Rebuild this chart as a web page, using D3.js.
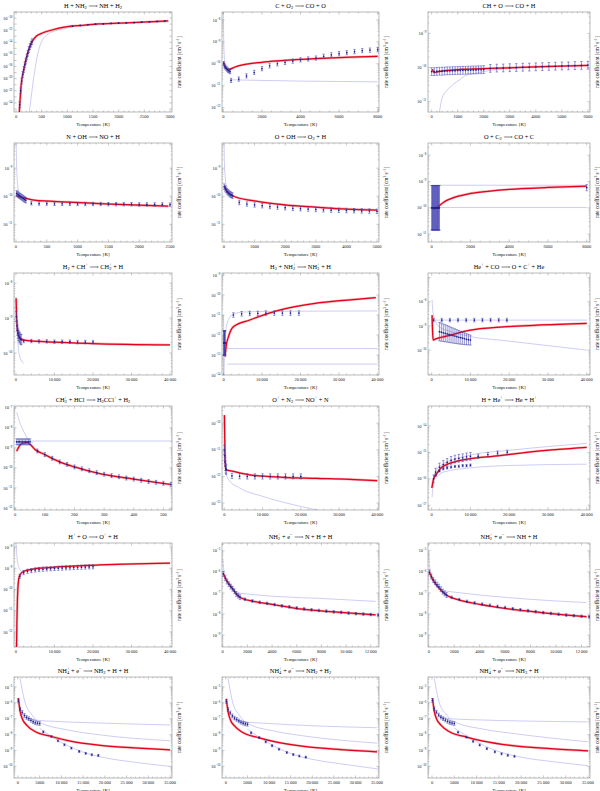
<!DOCTYPE html>
<html><head><meta charset="utf-8">
<script src="https://cdn.jsdelivr.net/npm/d3@7"></script>
<style>body{margin:0;background:#fff} text{font-family:"Liberation Serif","DejaVu Serif",serif}</style>
</head><body><svg id="c" width="600" height="791"></svg>
<script>
const titles = [
 "H + NH_{2} ⟶ NH + H_{2}", "C + O_{2} ⟶ CO + O", "CH + O ⟶ CO + H",
 "N + OH ⟶ NO + H", "O + OH ⟶ O_{2} + H", "O + C_{2} ⟶ CO + C",
 "H_{2} + CH^{+} ⟶ CH_{2}^{+} + H", "H_{2} + NH_{2}^{+} ⟶ NH_{3}^{+} + H", "He^{+} + CO ⟶ O + C^{+} + He",
 "CH_{3}^{+} + HCl ⟶ H_{2}CCl^{+} + H_{2}", "O^{+} + N_{2} ⟶ NO^{+} + N", "H + He^{+} ⟶ He + H^{+}",
 "H^{+} + O ⟶ O^{+} + H", "NH_{2}^{+} + e^{−} ⟶ N + H + H", "NH_{2}^{+} + e^{−} ⟶ NH + H",
 "NH_{4}^{+} + e^{−} ⟶ NH_{2} + H + H", "NH_{4}^{+} + e^{−} ⟶ NH_{2} + H_{2}", "NH_{4}^{+} + e^{−} ⟶ NH_{3} + H"
];
const xDomains = [[-40,3040],[-70,8070],[-140,6080],[-32,2532],[-64,5064],[-190,8170],
 [-500,40500],[-410,40430],[-950,40850],[-4,529],[-600,40450],[-950,40850],
 [-500,40500],[-60,12670],[-60,12670],[-900,35450],[-900,35450],[-900,35450]];
const xTickMax = [3000,8000,6000,2500,5000,8000,40000,40000,40000,500,40000,40000,40000,12000,12000,35000,35000,35000];
const xTickSteps = [500,2000,1000,500,1000,2000,10000,10000,10000,100,10000,10000,10000,2000,2000,5000,5000,5000];
const xMinorSteps = [100,500,200,100,200,500,2000,2000,2000,20,2000,2000,2000,500,500,1000,1000,1000];
const yDomains = [[3.2e-26,1e-9],[6.3e-13,2.3e-8],[5e-12,4.2e-9],[2.34e-12,7.9e-9],[2.34e-12,7.9e-9],[5e-12,2.9e-8],
 [2.34e-11,1.95e-8],[1e-14,1.26e-9],[9.3e-12,1.55e-7],[7.9e-13,1.23e-7],[5.5e-14,4.4e-10],[6.6e-18,5.75e-14],
 [1.95e-13,1.55e-8],[2.75e-10,2.34e-5],[2.75e-10,2.34e-5],[1.86e-11,4.2e-5],[1.86e-11,4.2e-5],[1.86e-11,4.2e-5]];
const yLabelExps = [[-10,-12,-14,-16,-18,-20,-22,-24],[-8,-9,-10,-11,-12],[-9,-10,-11],[-9,-10,-11],[-9,-10,-11],[-8,-9,-10,-11],
 [-8,-9,-10],[-9,-10,-11,-12,-13,-14],[-8,-9,-10],[-7,-8,-9,-10,-11,-12],[-10,-11,-12,-13],[-14,-15,-16,-17],
 [-8,-9,-10,-11,-12],[-5,-6,-7,-8,-9],[-5,-6,-7,-8,-9],[-5,-6,-7,-8,-9,-10],[-5,-6,-7,-8,-9,-10],[-5,-6,-7,-8,-9,-10]];

// fitted rate (red)
const redCurves = [
 [[64,3.2e-26],[100,1e-21],[150,2.8e-19],[200,2.5e-17],[260,1.26e-15],[320,1.6e-14],[400,1.1e-13],[516,3.5e-13],[700,1.07e-12],[968,3.4e-12],[1300,6.3e-12],[1613,1.05e-11],[2258,1.74e-11],[2968,3.3e-11]],
 [[10,1.23e-10],[100,7.1e-11],[260,5.4e-11],[600,7.1e-11],[1000,8.9e-11],[2000,1.17e-10],[3000,1.38e-10],[4000,1.58e-10],[5000,1.74e-10],[6000,1.9e-10],[7000,2.04e-10],[8000,2.2e-10]],
 [[30,8.9e-11],[100,7.1e-11],[200,7.4e-11],[500,8.1e-11],[1000,8.7e-11],[2000,9.3e-11],[3000,9.8e-11],[4000,1.05e-10],[5000,1.1e-10],[6000,1.15e-10]],
 [[10,1.1e-10],[27,1e-10],[134,8.7e-11],[295,7.2e-11],[833,6.2e-11],[1344,5.5e-11],[1882,4.9e-11],[2473,4.4e-11]],
 [[15,2.3e-10],[100,1.5e-10],[300,1.02e-10],[1000,6.8e-11],[2000,4.9e-11],[3000,4.1e-11],[4000,3.5e-11],[5000,3.2e-11]],
 [[100,8.9e-11],[300,1.07e-10],[600,1.6e-10],[1000,2.24e-10],[2000,3.5e-10],[3000,4.3e-10],[4000,5e-10],[6000,5.9e-10],[8000,6.6e-10]],
 [[50,3.7e-9],[150,1.3e-9],[300,6.3e-10],[700,3.1e-10],[2000,2.34e-10],[10000,2.04e-10],[20000,1.86e-10],[40000,1.7e-10]],
 [[400,8.3e-14],[700,3e-13],[1280,8.3e-13],[2550,2.6e-12],[6800,5.6e-12],[15300,1.9e-11],[23800,3.8e-11],[32300,5.6e-11],[39600,7.4e-11]],
 [[100,2.8e-9],[250,5e-10],[400,2.6e-10],[1000,2.9e-10],[2500,3.4e-10],[4720,4.1e-10],[9600,6.5e-10],[18500,9.1e-10],[27100,1.07e-9],[40000,1.26e-9]],
 [[5,6.8e-10],[15,1.3e-9],[25,1.7e-9],[40,1.8e-9],[50,1.5e-9],[67,8.3e-10],[100,4.6e-10],[150,2e-10],[200,1.12e-10],[289,5e-11],[400,2.75e-11],[522,1.5e-11]],
 [[30,2e-10],[100,3e-11],[200,5e-12],[400,1.8e-12],[2340,1.55e-12],[6670,1.15e-12],[15300,9.3e-13],[24000,8.5e-13],[32700,7.8e-13],[40000,6.9e-13]],
 [[50,4.5e-17],[500,1e-16],[1290,1.55e-16],[2580,2.75e-16],[7100,4.9e-16],[17600,7.6e-16],[26200,1.07e-15],[40000,1.55e-15]],
 [[150,1.95e-13],[250,3e-12],[400,4e-11],[600,2e-10],[1000,4.7e-10],[2000,7.2e-10],[5000,9.5e-10],[10000,1.12e-9],[20000,1.38e-9],[40000,1.74e-9]],
 [[50,8.5e-7],[300,4e-7],[700,1.9e-7],[1390,6.3e-8],[2500,4e-8],[4000,2.9e-8],[6480,1.7e-8],[9000,1.26e-8],[12400,9.1e-9]],
 [[50,1e-6],[300,4.5e-7],[700,2e-7],[1390,8e-8],[2500,4.5e-8],[4000,2.9e-8],[6480,1.7e-8],[9000,1.15e-8],[12400,7.5e-9]],
 [[100,2e-6],[500,3e-7],[1000,1e-7],[2000,4e-8],[3930,1.55e-8],[7720,7.6e-9],[11500,4.2e-9],[19000,2.1e-9],[26600,1.48e-9],[35000,1.1e-9]],
 [[100,1.8e-6],[500,2.8e-7],[1000,9e-8],[2000,3.5e-8],[3930,1.35e-8],[7720,6.3e-9],[11500,3.5e-9],[19000,1.7e-9],[26600,1.15e-9],[35000,8.3e-10]],
 [[100,2e-6],[500,3e-7],[1000,1e-7],[2000,4e-8],[3930,1.5e-8],[7720,7e-9],[11500,3.9e-9],[19000,1.9e-9],[26600,1.3e-9],[35000,9.5e-10]]
];

// other rate expressions (thin blue)
const thinCurves = [
 [[[258,3.2e-26],[300,2e-23],[350,3.2e-20],[400,1.26e-17],[450,1e-15],[516,2.5e-14],[600,1.6e-13],[700,5e-13],[850,1.26e-12],[1000,2.5e-12],[1300,6e-12],[1600,1e-11]]],
 [[[0,2.3e-8],[15,2e-9],[40,3e-10],[80,1.2e-10]],[[350,1.86e-11],[2000,1.74e-11],[4000,1.62e-11],[6000,1.55e-11],[8000,1.5e-11]]],
 [[[300,5e-12],[400,1.26e-11],[600,2.2e-11],[820,3.2e-11],[1100,4.5e-11],[1330,6e-11],[1700,6.8e-11],[2000,7.6e-11],[2500,8.7e-11],[3000,9.8e-11]]],
 [[[3,7.9e-9],[12,1e-9],[25,3e-10],[45,1.4e-10],[80,1e-10]]],
 [[[3,7.9e-9],[15,1.5e-9],[40,5e-10],[90,2.2e-10]]],
 [[[0,7.2e-10],[8000,7.2e-10]],[[0,1.02e-10],[8000,1.02e-10]]],
 [[[50,4e-9],[200,8e-10],[500,2e-10],[1000,8e-11],[2000,5e-11]]],
 [[[50,1e-14],[300,3e-13],[640,2e-12],[1300,6e-12],[2550,1.1e-11],[5000,1.4e-11],[10000,1.5e-11],[20000,1.55e-11],[40000,1.6e-11]],[[0,2.1e-13],[40000,2.1e-13]],[[1000,3.5e-14],[40000,3.5e-14]],[[0,1e-11],[30,1e-14]]],
 [[[100,1.2e-8],[300,4e-9],[1000,1.5e-9],[2500,8e-10],[4700,6e-10],[10000,3.6e-10],[18500,2.5e-10],[40000,1e-10]],[[0,1.74e-9],[40000,1.74e-9]]],
 [[[5,6e-8],[15,2e-8],[30,6e-9],[45,2.5e-9],[60,1.8e-9]],[[50,2.2e-9],[529,2.2e-9]]],
 [[[300,1.35e-12],[1000,8e-13],[4000,3.7e-13],[10000,1.8e-13],[18000,8.7e-14],[24000,5.6e-14],[28000,4e-14]]],
 [[[100,2e-17],[600,1e-16],[2000,3e-16],[10000,8e-16],[20000,1.2e-15],[40000,2.2e-15]],[[1000,1e-16],[3000,1.8e-16],[10000,2.6e-16],[20000,3.2e-16],[40000,3.6e-16]]],
 [[[100,1.2e-8],[300,3e-9],[700,1.2e-9],[1500,7e-10]]],
 [[[10,4e-6],[100,1e-6],[300,5e-7]],[[1200,1e-7],[4000,7e-8],[8000,5.5e-8],[12400,4e-8]]],
 [[[10,8e-6],[80,1.5e-6],[300,6e-7]],[[1000,1.3e-7],[4000,8e-8],[8000,5e-8],[12400,3.5e-8]]],
 [[[500,3.5e-5],[1600,1.15e-6],[3250,1.7e-7],[4680,6.5e-8],[11500,1.95e-8],[19000,9.5e-9],[35000,4.1e-9]],[[1500,1.2e-7],[3930,8.3e-8],[10000,6.5e-8],[20000,5.2e-8],[35000,4e-8]],[[5000,2.5e-8],[10000,3.2e-9],[15000,7.9e-10],[20000,3.5e-10],[27000,1.8e-10],[35000,1e-10]]],
 [[[500,3.5e-5],[1600,1e-6],[3250,1.5e-7],[4680,5.6e-8],[11500,1.6e-8],[19000,7.6e-9],[35000,2.9e-9]],[[1500,1e-7],[3930,6.5e-8],[10000,5e-8],[20000,3.6e-8],[35000,2.7e-8]],[[5000,2.2e-8],[10000,2.8e-9],[15000,6.5e-10],[20000,2.8e-10],[27000,1.4e-10],[35000,7e-11]]],
 [[[500,3.5e-5],[1600,1.1e-6],[3250,1.8e-7],[4680,7e-8],[11500,2.2e-8],[19000,1.1e-8],[35000,3.5e-9]],[[1500,1.4e-7],[3930,1e-7],[10000,8.5e-8],[20000,7.2e-8],[35000,6.3e-8]],[[5000,2.6e-8],[10000,3.5e-9],[15000,8.5e-10],[20000,3.8e-10],[27000,2e-10],[35000,1.1e-10]]]
];

// measured / tabulated points: [T, k, multiplicative error]
const errorSets = [
 [[[70,5e-25,3],[90,1e-22,3],[110,4e-21,3],[130,5e-20,3],[150,3.2e-19,3],[170,2e-18,3],[190,8e-18,3],[210,4e-17,3],[230,1.6e-16,3],[250,6.3e-16,3],[270,2e-15,3],[290,5e-15,3],[310,1.26e-14,3]],
  [[1100,4.5e-12,1.1],[1250,6.3e-12,1.1],[1400,7.9e-12,1.1],[1550,1e-11,1.1],[1700,1.12e-11,1.1],[1850,1.32e-11,1.1],[2000,1.48e-11,1.1],[2150,1.66e-11,1.1],[2300,1.8e-11,1.1],[2450,2.1e-11,1.1],[2600,2.4e-11,1.1],[2750,2.75e-11,1.1],[2900,3.16e-11,1.1]]],
 [[[20,1e-10,1.25],[60,7.9e-11,1.25],[100,7.1e-11,1.25],[150,6.3e-11,1.25],[200,5.6e-11,1.25],[250,5e-11,1.25],[300,4.7e-11,1.25],[350,4.4e-11,1.25]],
  [[400,1.74e-11,1.25],[800,2e-11,1.25],[1200,2.8e-11,1.25],[1600,4e-11,1.25],[2000,6e-11,1.25],[2400,8.1e-11,1.25],[2800,1e-10,1.25],[3200,1.15e-10,1.25],[3600,1.32e-10,1.25],[4000,1.51e-10,1.25],[4400,1.66e-10,1.25],[4800,1.82e-10,1.25],[5200,2.2e-10,1.25],[5600,2.57e-10,1.25],[6000,2.9e-10,1.25],[6400,3.2e-10,1.25],[6800,3.6e-10,1.25],[7200,4e-10,1.25],[7600,4.2e-10,1.25],[8000,4.4e-10,1.25]]],
 [[[0,7.6e-11,1.3],[100,7.6e-11,1.3],[200,7.7e-11,1.3],[300,7.8e-11,1.3],[400,7.8e-11,1.3],[500,7.9e-11,1.3],[600,8e-11,1.3],[700,8e-11,1.3],[800,8.1e-11,1.3],[900,8.1e-11,1.3],[1000,8.2e-11,1.3],[1100,8.2e-11,1.3],[1200,8.3e-11,1.3],[1300,8.3e-11,1.3],[1400,8.4e-11,1.3],[1500,8.4e-11,1.3],[1600,8.5e-11,1.3],[1700,8.5e-11,1.3],[1800,8.6e-11,1.3],[1900,8.6e-11,1.3],[2000,8.7e-11,1.3]],
  [[2250,9.4e-11,1.3],[2500,9.6e-11,1.3],[2750,9.7e-11,1.3],[3000,9.9e-11,1.3],[3250,1e-10,1.3],[3500,1.02e-10,1.3],[3750,1.03e-10,1.3],[4000,1.05e-10,1.3],[4250,1.06e-10,1.3],[4500,1.08e-10,1.3],[4750,1.09e-10,1.3],[5000,1.11e-10,1.3],[5250,1.12e-10,1.3],[5500,1.14e-10,1.3],[5750,1.15e-10,1.3],[6000,1.17e-10,1.3]]],
 [[[10,1.26e-10,1.25],[25,1.2e-10,1.25],[40,1.12e-10,1.25],[55,1.05e-10,1.25],[70,1e-10,1.25],[85,9.5e-11,1.25],[100,9e-11,1.25],[115,8.5e-11,1.25],[130,8e-11,1.25],[145,7.6e-11,1.25],[160,7.2e-11,1.25]],
  [[250,5.6e-11,1.15],[375,5.5e-11,1.15],[500,5.5e-11,1.15],[625,5.4e-11,1.15],[750,5.4e-11,1.15],[875,5.4e-11,1.15],[1000,5.3e-11,1.15],[1125,5.3e-11,1.15],[1250,5.3e-11,1.15],[1375,5.3e-11,1.15],[1500,5.2e-11,1.15],[1625,5.2e-11,1.15],[1750,5.2e-11,1.15],[1875,5.2e-11,1.15],[2000,5.1e-11,1.15],[2125,5.1e-11,1.15],[2250,5.1e-11,1.15],[2375,5.1e-11,1.15],[2500,5e-11,1.15]]],
 [[[10,2.2e-10,1.25],[40,1.9e-10,1.25],[70,1.7e-10,1.25],[100,1.5e-10,1.25],[130,1.4e-10,1.25],[160,1.3e-10,1.25],[190,1.2e-10,1.25],[220,1.15e-10,1.25],[250,1.1e-10,1.25],[280,1.05e-10,1.25]],
  [[500,6e-11,1.2],[750,5.3e-11,1.2],[1000,4.9e-11,1.2],[1250,4.6e-11,1.2],[1500,4.3e-11,1.2],[1750,4.1e-11,1.2],[2000,3.9e-11,1.2],[2250,3.7e-11,1.2],[2500,3.6e-11,1.2],[2750,3.5e-11,1.2],[3000,3.4e-11,1.2],[3250,3.3e-11,1.2],[3500,3.2e-11,1.2],[3750,3.15e-11,1.2],[4000,3.1e-11,1.2],[4250,3.05e-11,1.2],[4500,3e-11,1.2],[4750,2.95e-11,1.2],[5000,2.9e-11,1.2]]],
 [[[0,1e-10,7],[20,1e-10,7],[40,1e-10,7],[60,1e-10,7],[80,1e-10,7],[100,1e-10,7],[120,1e-10,7],[140,1e-10,7],[160,1e-10,7],[180,1e-10,7],[200,1e-10,7],[220,1e-10,7],[240,1e-10,7],[260,1e-10,7],[280,1e-10,7],[300,1e-10,7],[320,1e-10,7],[340,1e-10,7],[360,1e-10,7],[380,1e-10,7],[400,1e-10,7]],
  [[8000,5.8e-10,1.3]]],
 [[[100,1.1e-9,1.4],[250,6e-10,1.4],[400,4.5e-10,1.4],[550,3.7e-10,1.4],[700,3.2e-10,1.4],[850,2.9e-10,1.4],[1000,2.7e-10,1.4],[1200,2.5e-10,1.4],[1400,2.4e-10,1.4]],
  [[2000,2.2e-10,1.12],[4000,2.2e-10,1.12],[6000,2.15e-10,1.12],[8000,2.15e-10,1.12],[10000,2.1e-10,1.12],[12000,2.1e-10,1.12],[14000,2.1e-10,1.12],[16000,2.05e-10,1.12],[18000,2.05e-10,1.12],[20000,2.05e-10,1.12]]],
 [[[50,4e-13,4],[100,4e-13,4],[150,4e-13,4],[200,4e-13,4],[250,4e-13,4],[300,4e-13,4],[350,4e-13,4],[400,4e-13,4]],
  [[2550,1e-11,1.3],[4700,1.15e-11,1.3],[6800,1.2e-11,1.3],[8900,1.2e-11,1.3],[11000,1.25e-11,1.3],[13200,1.25e-11,1.3],[15300,1.25e-11,1.3],[17400,1.25e-11,1.3],[19600,1.25e-11,1.3]]],
 [[[2000,5.8e-10,2.4],[2500,5.5e-10,2.35],[3000,5.2e-10,2.3],[3500,4.95e-10,2.25],[4000,4.7e-10,2.2],[4500,4.45e-10,2.15],[5000,4.2e-10,2.1],[5500,4e-10,2.05],[6000,3.8e-10,2],[6500,3.6e-10,1.95],[7000,3.4e-10,1.9],[7500,3.25e-10,1.85],[8000,3.1e-10,1.8],[8500,2.95e-10,1.75],[9000,2.8e-10,1.7],[9500,2.7e-10,1.65],[10000,2.6e-10,1.6]],
  [[500,1.74e-9,1.18],[2600,1.74e-9,1.18],[4700,1.74e-9,1.18],[6800,1.74e-9,1.18],[8900,1.74e-9,1.18],[11000,1.74e-9,1.18],[13100,1.74e-9,1.18],[15200,1.74e-9,1.18],[17300,1.74e-9,1.18],[19400,1.74e-9,1.18]]],
 [[[5,2e-9,1.4],[10,2e-9,1.4],[15,2e-9,1.4],[20,2e-9,1.4],[25,2e-9,1.4],[30,2e-9,1.4],[35,2e-9,1.4],[40,2e-9,1.4],[45,2e-9,1.4],[50,2e-9,1.4]],
  [[75,7e-10,1.25],[100,4.6e-10,1.25],[125,3e-10,1.25],[150,2e-10,1.25],[175,1.5e-10,1.25],[200,1.12e-10,1.25],[225,9e-11,1.25],[250,7.2e-11,1.25],[275,5.8e-11,1.25],[300,4.8e-11,1.25],[325,4.1e-11,1.25],[350,3.6e-11,1.25],[375,3.1e-11,1.25],[400,2.75e-11,1.25],[425,2.4e-11,1.25],[450,2.1e-11,1.25],[475,1.9e-11,1.25],[500,1.7e-11,1.25],[525,1.5e-11,1.25]]],
 [[[20,1e-11,1.5],[100,6e-12,1.5],[200,3.5e-12,1.5],[300,2.5e-12,1.5],[400,2e-12,1.5],[500,1.8e-12,1.5]],
  [[2000,1.05e-12,1.25],[4000,1.02e-12,1.25],[6000,1e-12,1.25],[8000,1e-12,1.25],[10000,1e-12,1.25],[12000,1e-12,1.25],[14000,1e-12,1.25],[16000,1e-12,1.25],[18000,1e-12,1.25],[20000,1e-12,1.25]]],
 [[[500,1e-16,1.4],[1000,1.8e-16,1.4],[2000,2.8e-16,1.4],[3000,3.5e-16,1.4],[4000,4.2e-16,1.4],[5000,5e-16,1.4],[6000,5.6e-16,1.4],[7000,6e-16,1.4],[8000,6.3e-16,1.4],[9000,6.8e-16,1.4],[10000,7.1e-16,1.4]],
  [[1000,1.4e-16,1.1],[2000,2e-16,1.1],[3000,2.4e-16,1.1],[4000,2.6e-16,1.1],[5000,2.8e-16,1.1],[6000,2.95e-16,1.1],[7000,3e-16,1.1],[8000,3.16e-16,1.1],[9000,3.16e-16,1.1],[10000,3.3e-16,1.1]],
  [[12000,7.2e-16,1.2],[14500,8.3e-16,1.2],[17000,9.5e-16,1.2],[19500,1.02e-15,1.2]]],
 [[[1000,4.2e-10,1.25],[2000,6.2e-10,1.25],[3000,7.2e-10,1.25],[4000,7.8e-10,1.25],[5000,8.3e-10,1.25],[6000,8.7e-10,1.25],[7000,9e-10,1.25],[8000,9.3e-10,1.25],[9000,9.5e-10,1.25],[10000,9.8e-10,1.25],[11000,1e-9,1.25],[12000,1.02e-9,1.25],[13000,1.04e-9,1.25],[14000,1.06e-9,1.25],[15000,1.08e-9,1.25],[16000,1.1e-9,1.25],[17000,1.12e-9,1.25],[18000,1.14e-9,1.25],[19000,1.16e-9,1.25],[20000,1.18e-9,1.25]]],
 [[[50,8e-7,1.3],[200,5e-7,1.3],[350,3.5e-7,1.3],[500,2.6e-7,1.3],[650,2e-7,1.3],[800,1.6e-7,1.3],[950,1.2e-7,1.3],[1100,9e-8,1.3],[1250,7.5e-8,1.3],[1400,6.3e-8,1.3]],
  [[1800,5e-8,1.15],[2400,4.2e-8,1.15],[3000,3.6e-8,1.15],[3600,3.2e-8,1.15],[4200,2.8e-8,1.15],[4800,2.45e-8,1.15],[5400,2.2e-8,1.15],[6000,1.95e-8,1.15],[6600,1.75e-8,1.15],[7200,1.6e-8,1.15],[7800,1.48e-8,1.15],[8400,1.38e-8,1.15],[9000,1.28e-8,1.15],[9600,1.2e-8,1.15],[10200,1.12e-8,1.15],[10800,1.05e-8,1.15],[11400,1e-8,1.15],[12000,9.5e-9,1.15],[12600,9e-9,1.15]]],
 [[[50,9.5e-7,1.3],[200,6e-7,1.3],[350,4.2e-7,1.3],[500,3.2e-7,1.3],[650,2.5e-7,1.3],[800,2e-7,1.3],[950,1.5e-7,1.3],[1100,1.15e-7,1.3],[1250,9.5e-8,1.3],[1400,8e-8,1.3]],
  [[1800,6.2e-8,1.15],[2400,4.9e-8,1.15],[3000,4e-8,1.15],[3600,3.4e-8,1.15],[4200,2.95e-8,1.15],[4800,2.6e-8,1.15],[5400,2.3e-8,1.15],[6000,2.05e-8,1.15],[6600,1.8e-8,1.15],[7200,1.6e-8,1.15],[7800,1.45e-8,1.15],[8400,1.3e-8,1.15],[9000,1.17e-8,1.15],[9600,1.07e-8,1.15],[10200,9.8e-9,1.15],[10800,9e-9,1.15],[11400,8.4e-9,1.15],[12000,7.9e-9,1.15],[12600,7.4e-9,1.15]]],
 [[[100,1.3e-6,1.3],[500,4e-7,1.3],[1000,2.5e-7,1.3],[1500,1.6e-7,1.3],[2000,1.2e-7,1.3],[2500,1e-7,1.3],[3000,8e-8,1.3],[3500,6.5e-8,1.3],[4000,5.6e-8,1.3],[4500,5.2e-8,1.3],[5000,5e-8,1.3]],
  [[5840,1.48e-8,1.15],[7720,7.6e-9,1.15],[9220,4.1e-9,1.15],[10700,2.3e-9,1.15],[12300,1.41e-9,1.15],[14100,8.7e-10,1.15],[15600,6.6e-10,1.15],[17000,5.4e-10,1.15],[18500,4.9e-10,1.15]]],
 [[[100,1.2e-6,1.3],[500,3.8e-7,1.3],[1000,2.3e-7,1.3],[1500,1.5e-7,1.3],[2000,1.1e-7,1.3],[2500,9e-8,1.3],[3000,7.2e-8,1.3],[3500,6e-8,1.3],[4000,5.2e-8,1.3],[4500,4.7e-8,1.3],[5000,4.4e-8,1.3]],
  [[5840,1.3e-8,1.15],[7720,6.5e-9,1.15],[9220,3.5e-9,1.15],[10700,2e-9,1.15],[12300,1.2e-9,1.15],[14100,7.5e-10,1.15],[15600,5.6e-10,1.15],[17000,4.5e-10,1.15],[18500,3.8e-10,1.15]]],
 [[[100,1.4e-6,1.3],[500,4.2e-7,1.3],[1000,2.6e-7,1.3],[1500,1.7e-7,1.3],[2000,1.25e-7,1.3],[2500,1e-7,1.3],[3000,8.2e-8,1.3],[3500,6.8e-8,1.3],[4000,5.8e-8,1.3],[4500,5.3e-8,1.3],[5000,5e-8,1.3]],
  [[5840,1.4e-8,1.15],[7720,7e-9,1.15],[9220,3.8e-9,1.15],[10700,2.2e-9,1.15],[12300,1.3e-9,1.15],[14100,8.2e-10,1.15],[15600,6.2e-10,1.15],[17000,5e-10,1.15],[18500,4.3e-10,1.15]]]
];

const cols = [[14,172],[222,379],[428,590]];
const rows = [[12,112],[143,242],[273,375],[406,510],[543,647],[677,778]];

const svg = d3.select("#c");
svg.append("rect").attr("width",600).attr("height",791).attr("fill","#fff");

function rich(sel, str, fs) {
  const parts = str.split(/(_\{[^}]*\}|\^\{[^}]*\})/g).filter(s => s.length);
  let off = 0, prevSub = null;
  parts.forEach(p => {
    let kind = "n", t = p;
    if (p.startsWith("_{")) { kind = "sub"; t = p.slice(2, -1); }
    else if (p.startsWith("^{")) { kind = "sup"; t = p.slice(2, -1); }
    const target = kind === "sub" ? fs * 0.3 : kind === "sup" ? -fs * 0.42 : 0;
    const ts = sel.append("tspan").text(t).attr("dy", (target - off).toFixed(2));
    off = target;
    if (kind !== "n") ts.attr("font-size", fs * 0.7);
    if (kind === "sup" && prevSub) ts.attr("dx", -(prevSub.length * fs * 0.7 * 0.5).toFixed(2));
    prevSub = kind === "sub" ? t : null;
  });
}
const fmtX = v => v >= 10000 ? d3.format(",")(v).replace(/,/g, "\u2009") : String(v);

titles.forEach((title, i) => {
  const r = Math.floor(i / 3), c = i % 3;
  const [L, R] = cols[c], [T, B] = rows[r];
  const x = d3.scaleLinear().domain(xDomains[i]).range([L, R]);
  const y = d3.scaleLog().domain(yDomains[i]).range([B, T]);
  const g = svg.append("g");
  const cid = "clip" + i;
  g.append("clipPath").attr("id", cid).append("rect").attr("x", L).attr("y", T).attr("width", R - L).attr("height", B - T);

  const tk = g.append("g").attr("stroke", "#8a8a8a").attr("stroke-width", 0.45);
  const xMaj = d3.range(0, xTickMax[i] + 1, xTickSteps[i]);
  const xMin = d3.range(0, xDomains[i][1], xMinorSteps[i]).filter(v => v % xTickSteps[i] !== 0);
  xMaj.forEach(v => { const px = x(v);
    tk.append("line").attr("x1", px).attr("x2", px).attr("y1", B).attr("y2", B - 2.6);
    tk.append("line").attr("x1", px).attr("x2", px).attr("y1", T).attr("y2", T + 2.6); });
  xMin.forEach(v => { const px = x(v);
    tk.append("line").attr("x1", px).attr("x2", px).attr("y1", B).attr("y2", B - 1.4);
    tk.append("line").attr("x1", px).attr("x2", px).attr("y1", T).attr("y2", T + 1.4); });
  const e0 = Math.ceil(Math.log10(yDomains[i][0])), e1 = Math.floor(Math.log10(yDomains[i][1]));
  const span = Math.log10(yDomains[i][1] / yDomains[i][0]);
  for (let e = e0 - 1; e <= e1; e++) {
    if (e >= e0) { const py = y(Math.pow(10, e));
      tk.append("line").attr("x1", L).attr("x2", L + 2.6).attr("y1", py).attr("y2", py);
      tk.append("line").attr("x1", R).attr("x2", R - 2.6).attr("y1", py).attr("y2", py); }
    if (span <= 7) for (let m = 2; m <= 9; m++) {
      const v = m * Math.pow(10, e);
      if (v < yDomains[i][0] || v > yDomains[i][1]) continue;
      const py = y(v);
      tk.append("line").attr("x1", L).attr("x2", L + 1.3).attr("y1", py).attr("y2", py);
      tk.append("line").attr("x1", R).attr("x2", R - 1.3).attr("y1", py).attr("y2", py);
    }
  }
  g.append("rect").attr("x", L).attr("y", T).attr("width", R - L).attr("height", B - T)
    .attr("fill", "none").attr("stroke", "#8a8a8a").attr("stroke-width", 0.6);

  xMaj.forEach(v => g.append("text").attr("x", x(v)).attr("y", B + 5.6).attr("text-anchor", "middle")
    .attr("font-size", 4.5).attr("fill", "#222").text(fmtX(v)));
  yLabelExps[i].forEach(e => {
    const t = g.append("text").attr("x", L - 1.6).attr("y", y(Math.pow(10, e)) + 1.6)
      .attr("text-anchor", "end").attr("font-size", 4.5).attr("fill", "#222");
    rich(t, "10^{−" + Math.abs(e) + "}", 4.5);
  });

  rich(g.append("text").attr("x", (L + R) / 2).attr("y", T - 4.5).attr("text-anchor", "middle")
    .attr("font-size", 6.4).attr("fill", "#000"), title, 6.4);
  g.append("text").attr("x", (L + R) / 2).attr("y", B + 13.5).attr("text-anchor", "middle")
    .attr("font-size", 5).attr("fill", "#111").text("Temperature [K]");
  rich(g.append("text").attr("transform", `translate(${R + 9},${(T + B) / 2}) rotate(-90)`)
    .attr("text-anchor", "middle").attr("font-size", 5.2).attr("fill", "#111"), "rate coefficient [cm^{3} s^{−1}]", 5.2);

  const plot = g.append("g").attr("clip-path", `url(#${cid})`);
  const line = d3.line().x(d => x(d[0])).y(d => y(d[1])).curve(d3.curveMonotoneX);
  thinCurves[i].forEach(cv => plot.append("path").attr("d", line(cv)).attr("fill", "none")
    .attr("stroke", "#7a7ae8").attr("stroke-width", 0.5).attr("opacity", 0.75));
  plot.append("path").attr("d", line(redCurves[i])).attr("fill", "none").attr("stroke", "#f5b0b4").attr("stroke-width", 2.4);
  plot.append("path").attr("d", line(redCurves[i])).attr("fill", "none").attr("stroke", "#e3001b").attr("stroke-width", 1.25);
  errorSets[i].forEach(set => {
    const eg = plot.append("g");
    set.forEach(([tv, kv, f]) => {
      const px = x(tv), y0 = y(kv / f), y1 = y(kv * f);
      eg.append("line").attr("x1", px).attr("x2", px).attr("y1", y0).attr("y2", y1).attr("stroke", "#4040b0").attr("stroke-width", 0.55);
      eg.append("line").attr("x1", px - 1.2).attr("x2", px + 1.2).attr("y1", y0).attr("y2", y0).attr("stroke", "#4040b0").attr("stroke-width", 0.55);
      eg.append("line").attr("x1", px - 1.2).attr("x2", px + 1.2).attr("y1", y1).attr("y2", y1).attr("stroke", "#4040b0").attr("stroke-width", 0.55);
      eg.append("circle").attr("cx", px).attr("cy", y(kv)).attr("r", 0.85).attr("fill", "#20208a");
    });
  });
});
</script></body></html>
